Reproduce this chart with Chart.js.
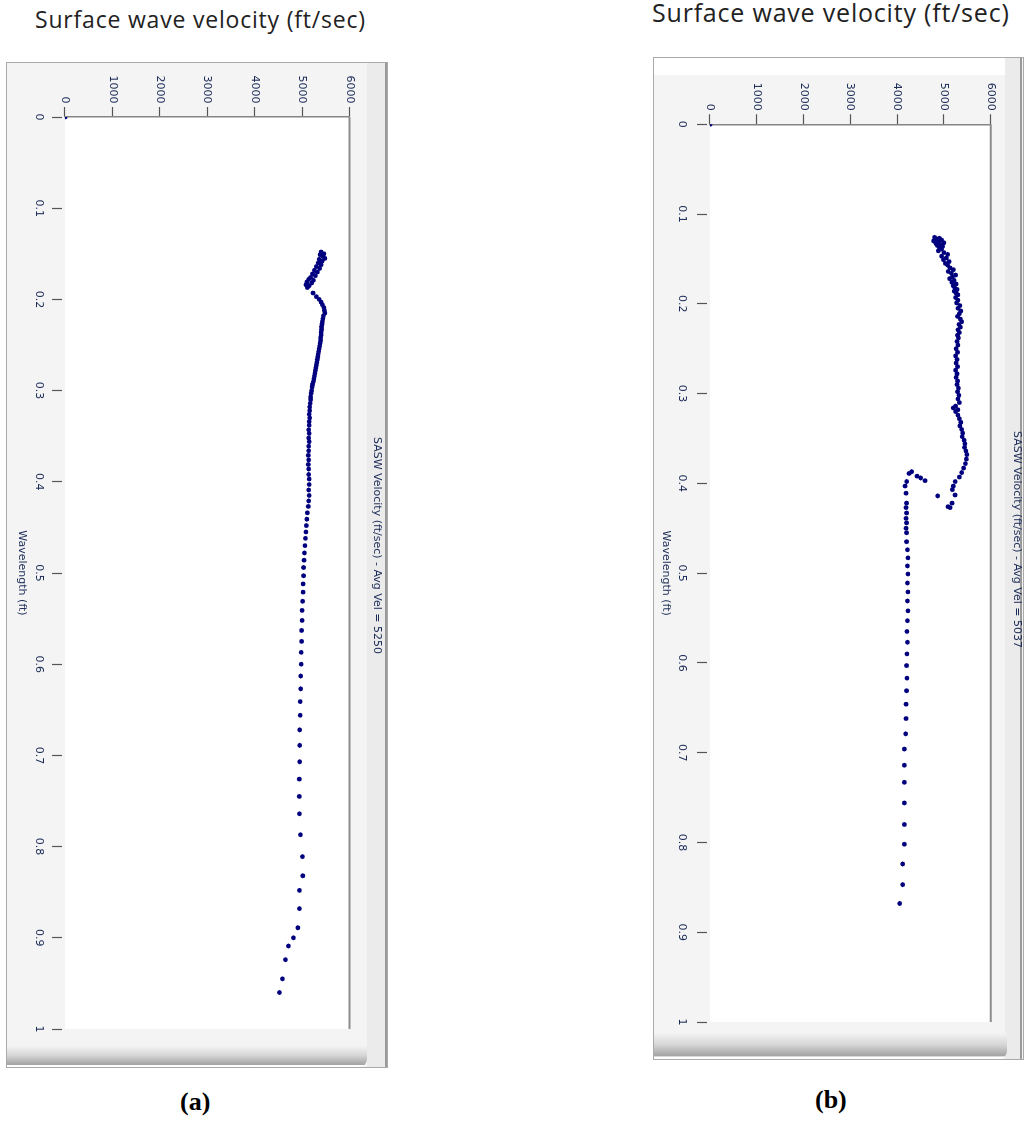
<!DOCTYPE html>
<html>
<head>
<meta charset="utf-8">
<script src="https://cdn.jsdelivr.net/npm/chart.js@4.4.0/dist/chart.umd.min.js"></script>
<style>
  body { margin:0; background:#fff; width:1028px; height:1124px; position:relative; overflow:hidden; }
  .title { position:absolute; font-family:'Open Sans', Lato, sans-serif; color:#222; white-space:nowrap; line-height:1; }
  .caption { position:absolute; font-family:'Liberation Serif', 'Times New Roman', serif; font-weight:bold; color:#000; line-height:1; }
  .panel { position:absolute; background:#f4f4f4; border:1px solid #aaa; box-sizing:border-box; }
  .band { position:absolute; top:0; bottom:0; background:#ebebeb; border-right:2px solid #9a9a9a; }
  .strip { position:absolute; left:0; top:0; background:#fff; }
  .bar { position:absolute; left:0; background:linear-gradient(#f3f3f3, #d6d6d6 45%, #a3a3a3 88%, #fff 92%, #fff); border-radius:0 0 8px 0; }
  canvas { position:absolute; transform-origin:0 0; }
</style>
</head>
<body>
<div class="title" style="left:35px; top:7.5px; font-size:23px; letter-spacing:0.8px;">Surface wave velocity (ft/sec)</div>
<div class="title" style="left:652px; top:0px; font-size:25px; letter-spacing:0.8px;">Surface wave velocity (ft/sec)</div>

<div class="panel" style="left:6px; top:62px; width:382px; height:1006px;">
  <div class="band" style="left:360px; width:18px;"></div>
  <div class="bar" style="top:983px; width:360px; height:21px;"></div>
</div>
<div class="panel" style="left:653px; top:57px; width:371px; height:1003px;">
  <div class="strip" style="width:351px; height:17px;"></div>
  <div class="band" style="left:351px; width:15px;"></div>
  <div class="bar" style="top:975px; width:353px; height:26px;"></div>
</div>

<canvas id="chartA" width="1006" height="384" style="left:6px; top:62px; width:1006px; height:384px; transform:translate(384px,0) rotate(90deg);"></canvas>
<canvas id="chartB" width="1003" height="374" style="left:653px; top:57px; width:1003px; height:374px; transform:translate(374px,0) rotate(90deg);"></canvas>

<div class="caption" style="left:180px; top:1089px; font-size:26px;">(a)</div>
<div class="caption" style="left:815px; top:1087px; font-size:26px;">(b)</div>

<script>
'use strict';
// tick labels
let wavelengthTicks = [0, 0.1, 0.2, 0.3, 0.4, 0.5, 0.6, 0.7, 0.8, 0.9, 1];
let velocityTicks = [0, 1000, 2000, 3000, 4000, 5000, 6000];

// chart (a)
let wavelengthA = [0,
  0.148, 0.150, 0.151, 0.153, 0.155, 0.156, 0.158, 0.160, 0.162, 0.164, 0.166, 0.168, 0.170, 0.172, 0.174, 0.176, 0.178, 0.179, 0.181, 0.182, 0.184, 0.185, 0.187, 0.193,
  0.197, 0.200, 0.203, 0.206, 0.209, 0.212, 0.215, 0.218, 0.221, 0.224, 0.227, 0.230, 0.233, 0.236, 0.239, 0.242, 0.245,
  0.248, 0.251, 0.254, 0.257, 0.260, 0.263, 0.266, 0.269, 0.272, 0.275, 0.278, 0.281, 0.284, 0.287, 0.290, 0.293, 0.296, 0.300, 0.303, 0.307,
  0.310, 0.314, 0.318, 0.322, 0.326, 0.330, 0.334, 0.338, 0.343, 0.347, 0.352, 0.356, 0.361, 0.366, 0.371, 0.376, 0.381, 0.386, 0.392, 0.397,
  0.403, 0.409, 0.415, 0.421, 0.427, 0.434, 0.441, 0.448, 0.455, 0.462, 0.470, 0.478, 0.486, 0.494, 0.503, 0.512, 0.521, 0.531, 0.541, 0.552,
  0.563, 0.575, 0.587, 0.600, 0.613, 0.627, 0.641, 0.656, 0.672, 0.689, 0.707, 0.726, 0.745,
  0.764, 0.787, 0.811, 0.832, 0.848, 0.868, 0.889, 0.900, 0.909, 0.924, 0.945, 0.960];
let velocityA = [0,
  5400, 5460, 5380, 5440, 5480, 5360, 5420, 5340, 5400, 5300, 5370, 5260, 5320, 5220, 5280, 5180, 5140, 5240, 5100, 5200, 5080, 5150, 5110, 5230,
  5300, 5360, 5400, 5430, 5460, 5470, 5480, 5450, 5440, 5430, 5420, 5410, 5410, 5400, 5400, 5390, 5390,
  5380, 5370, 5360, 5350, 5340, 5330, 5320, 5310, 5300, 5290, 5280, 5270, 5260, 5250, 5240, 5220, 5210, 5200, 5190, 5180,
  5180, 5170, 5160, 5160, 5150, 5160, 5150, 5150, 5140, 5150, 5140, 5150, 5140, 5140, 5130, 5140, 5130, 5140, 5140, 5150,
  5150, 5140, 5150, 5140, 5130, 5110, 5100, 5090, 5080, 5070, 5060, 5050, 5040, 5030, 5030, 5020, 5020, 5010, 5000, 5000,
  4990, 4990, 4980, 4980, 4970, 4970, 4960, 4960, 4950, 4950, 4950, 4940, 4940,
  4944, 4966, 5008, 5014, 4944, 4944, 4910, 4818, 4712, 4649, 4585, 4522];

// chart (b)
let wavelengthB = [0,
  0.126, 0.127, 0.128, 0.129, 0.130, 0.131, 0.132, 0.133, 0.134, 0.135, 0.136, 0.137,
  0.139, 0.141, 0.143, 0.145, 0.147, 0.149, 0.151, 0.153, 0.155, 0.157,
  0.160, 0.162, 0.164, 0.166, 0.168, 0.170, 0.172, 0.174, 0.176, 0.178, 0.180, 0.182, 0.184, 0.186, 0.188, 0.190,
  0.193, 0.196, 0.199, 0.202, 0.205, 0.208, 0.211, 0.214, 0.217, 0.220, 0.223, 0.226, 0.229, 0.232, 0.235, 0.238,
  0.242, 0.246, 0.250, 0.254, 0.258, 0.262, 0.266, 0.270, 0.274, 0.278, 0.282, 0.286, 0.290, 0.294, 0.298, 0.302, 0.306, 0.310,
  0.314, 0.316, 0.318, 0.320,
  0.324, 0.328, 0.332, 0.336, 0.340, 0.344, 0.348, 0.352, 0.356, 0.360, 0.364, 0.368,
  0.373, 0.378, 0.383, 0.388, 0.393,
  0.398, 0.403, 0.407,
  0.413, 0.422, 0.426, 0.427,
  0.414,
  0.387, 0.392, 0.394, 0.397,
  0.389, 0.398, 0.403, 0.411, 0.422, 0.427, 0.433, 0.439, 0.444, 0.450, 0.455, 0.465,
  0.474, 0.483, 0.492, 0.501, 0.511, 0.521, 0.531, 0.542, 0.553, 0.565, 0.577, 0.590, 0.603, 0.617, 0.631, 0.646, 0.662, 0.679, 0.696, 0.714, 0.733, 0.756, 0.780, 0.802, 0.824, 0.847, 0.868];
let velocityB = [0,
  4800, 4900, 4850, 4950, 4780, 4880, 5000, 4830, 4920, 4860, 4970, 4900,
  4950, 4880, 5000, 5080, 4950, 5050, 4990, 5110, 5030, 5080,
  5130, 5200, 5090, 5160, 5250, 5180, 5120, 5220, 5170, 5260, 5200, 5230, 5280, 5220, 5260, 5300,
  5250, 5300, 5270, 5340, 5300, 5360, 5330, 5290, 5350, 5380, 5320, 5350, 5300, 5330, 5290, 5310,
  5280, 5300, 5260, 5290, 5250, 5280, 5260, 5290, 5250, 5280, 5260, 5290, 5280, 5310, 5290, 5320, 5300, 5330,
  5250, 5200, 5300, 5250,
  5300, 5330, 5360, 5340, 5380, 5400, 5390, 5430, 5450, 5440, 5470, 5490,
  5480, 5460, 5420, 5380, 5330,
  5240, 5200, 5180,
  5237, 5173, 5087, 5130,
  4866,
  4311, 4425, 4504, 4596,
  4254, 4204, 4168, 4190, 4200, 4190, 4200, 4190, 4200, 4190, 4200, 4200,
  4220, 4230, 4220, 4230, 4220, 4230, 4220, 4230, 4220, 4210, 4220, 4210, 4200, 4210, 4200, 4190, 4190, 4183, 4153, 4153, 4153, 4153, 4153, 4153, 4119, 4119, 4055];

let textColor = '#1c2c58';
Chart.defaults.font.family = "'DejaVu Sans', sans-serif";
Chart.defaults.font.size = 11;
Chart.defaults.color = textColor;

// white plot area + the gray edge at v = 6000
let plotFrame = {
  id: 'plotFrame',
  beforeDraw(chart) {
    let a = chart.chartArea;
    let ctx = chart.ctx;
    ctx.save();
    ctx.fillStyle = '#ffffff';
    ctx.fillRect(a.left, a.top, a.right - a.left, a.bottom - a.top);
    ctx.restore();
  },
  afterDraw(chart) {
    let a = chart.chartArea;
    let ctx = chart.ctx;
    ctx.save();
    ctx.strokeStyle = '#8c8c8c';
    ctx.lineWidth = 2;
    ctx.beginPath();
    ctx.moveTo(a.left, a.top);
    ctx.lineTo(a.right, a.top);
    ctx.stroke();
    ctx.restore();
  }
};

function makeChart(id, xs, ys, titleText, g) {
  let points = [];
  for (let i = 0; i < xs.length; i++) {
    points.push({x: xs[i], y: ys[i]});
  }
  return new Chart(document.getElementById(id), {
    type: 'scatter',
    data: {
      datasets: [{
        data: points,
        pointRadius: 2.4,
        pointHoverRadius: 2.4,
        pointBackgroundColor: '#00007f',
        pointBorderWidth: 0
      }]
    },
    plugins: [plotFrame],
    options: {
      responsive: false,
      animation: false,
      devicePixelRatio: 1,
      layout: { padding: { left: 0, right: g.padRight, top: 0, bottom: 0 } },
      plugins: {
        legend: { display: false },
        tooltip: { enabled: false },
        title: {
          display: true,
          text: titleText,
          color: textColor,
          font: { size: 11, weight: 'normal' },
          padding: { top: g.titleTop, bottom: g.titleBottom }
        }
      },
      scales: {
        x: {
          type: 'linear',
          min: 0,
          max: 1,
          afterBuildTicks: s => { s.ticks = wavelengthTicks.map(v => ({value: v})); },
          afterFit: s => { s.height = g.xAxisH; },
          ticks: { padding: g.xTickPad, color: textColor, maxRotation: 0, callback: v => String(v) },
          border: { display: false },
          grid: { drawOnChartArea: false, drawTicks: true, tickLength: 13, tickColor: '#555', tickWidth: 1.2, tickBorderDash: [10, 3], tickBorderDashOffset: 10 },
          title: { display: true, text: 'Wavelength (ft)', color: textColor, font: { size: 11 }, padding: { top: 0, bottom: g.xTitleBottom } }
        },
        y: {
          type: 'linear',
          min: 0,
          max: 6000,
          afterBuildTicks: s => { s.ticks = velocityTicks.map(v => ({value: v})); },
          afterFit: s => { s.width = g.yAxisW; },
          ticks: { padding: 3.5, color: textColor, callback: v => String(v) },
          border: { display: true, color: '#858585', width: 1.5 },
          grid: { drawOnChartArea: false, drawTicks: true, tickLength: 10, tickColor: '#555', tickWidth: 1.2 }
        }
      }
    }
  });
}

makeChart('chartA', wavelengthA, velocityA, 'SASW Velocity (ft/sec) - Avg Vel = 5250',
  { yAxisW: 55, xAxisH: 59, padRight: 39, titleTop: 6.9, titleBottom: 20.4, xTickPad: 6.5, xTitleBottom: 9.4 });
makeChart('chartB', wavelengthB, velocityB, 'SASW Velocity (ft/sec) - Avg Vel = 5037',
  { yAxisW: 67.25, xAxisH: 57, padRight: 38, titleTop: 3.9, titleBottom: 19.2, xTickPad: 8.5, xTitleBottom: 5.9 });
</script>
</body>
</html>
